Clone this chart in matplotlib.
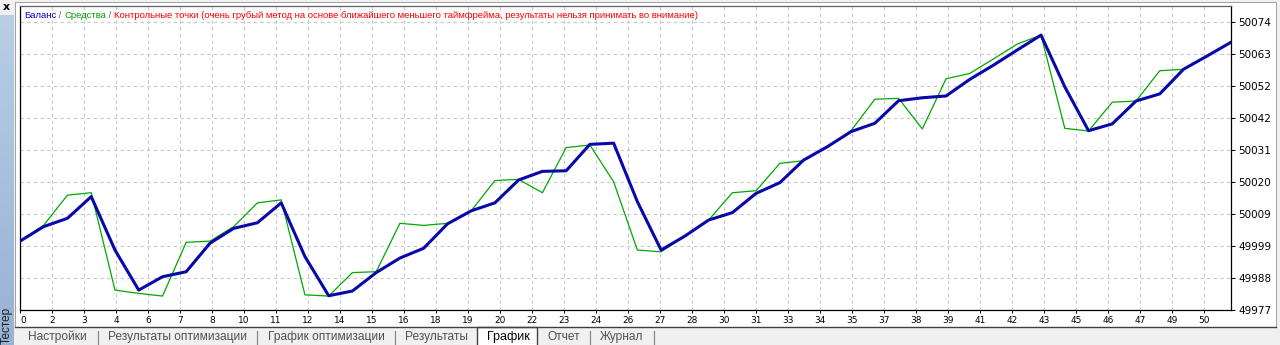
import numpy as np
import matplotlib.pyplot as plt
from matplotlib.patches import Rectangle
from matplotlib.lines import Line2D

# Data ------------------------------------------------------

trade = np.arange(52)

balance = [50000.2, 50005.1, 50007.9, 50015.2, 49997.2, 49983.7, 49988.2, 49989.9,
           49999.5, 50004.5, 50006.4, 50013.1, 49995.0, 49981.8, 49983.4, 49989.6,
           49994.5, 49997.8, 50006.0, 50010.4, 50013.1, 50020.8, 50023.7, 50023.9,
           50032.8, 50033.2, 50013.5, 49997.2, 50001.9, 50007.3, 50009.8, 50016.3,
           50019.9, 50027.5, 50032.0, 50037.1, 50039.9, 50047.5, 50048.5, 50049.1,
           50054.7, 50059.5, 50064.6, 50069.6, 50052.2, 50037.4, 50039.7, 50047.4,
           50049.8, 50058.1, 50062.6, 50067.2]

equity = [50000.2, 50005.6, 50015.7, 50016.5, 49983.7, 49982.6, 49981.7, 49999.8,
          50000.2, 50005.1, 50013.1, 50014.1, 49982.1, 49981.7, 49989.6, 49989.9,
          50006.2, 50005.5, 50006.2, 50010.4, 50020.6, 50021.0, 50016.5, 50031.7,
          50032.6, 50020.2, 49997.2, 49996.6, 50001.9, 50007.3, 50016.5, 50017.2,
          50026.4, 50027.3, 50032.0, 50037.4, 50048.0, 50048.3, 50038.0, 50054.9,
          50056.7, 50061.6, 50066.6, 50069.6, 50038.2, 50037.3, 50047.0, 50047.4,
          50057.6, 50058.1, 50062.6, 50067.2]

x_labels = ['0', '2', '3', '4', '6', '7', '8', '10', '11', '12', '14', '15', '16',
            '18', '19', '20', '22', '23', '24', '26', '27', '28', '30', '31', '33',
            '34', '35', '37', '38', '39', '41', '42', '43', '45', '46', '47', '49', '50']
y_labels = ['49977', '49988', '49999', '50009', '50020', '50031', '50042',
            '50052', '50063', '50074']

tabs = ['Настройки', 'Результаты оптимизации', 'График оптимизации', 'Результаты',
        'График', 'Отчет', 'Журнал']

# Layout helpers (pixels -> figure fraction) ---------------

W, H = 1280, 345

def fx(px):
    return px / W

def fy(py):
    return 1 - py / H

fig = plt.figure(figsize=(W / 100, H / 100), dpi=100, facecolor='#f0f0f0')

# white chart panel
fig.add_artist(Rectangle((fx(15), fy(327)), fx(1276) - fx(15), fy(2) - fy(327),
                         transform=fig.transFigure, facecolor='white',
                         edgecolor='#a0a0a0', lw=0.7, zorder=0))

# left "Тестер" strip
strip = fig.add_axes([0, 0, fx(14), fy(15)])
top_c = np.array([184, 206, 230]) / 255
bot_c = np.array([152, 178, 212]) / 255
grad = np.linspace(0, 1, 200)[:, None, None]
strip.imshow(top_c * (1 - grad) + bot_c * grad, aspect='auto')
strip.axis('off')
fig.text(fx(6), fy(7), 'x', ha='center', va='center', fontsize=8, fontweight='bold')
fig.text(fx(7), fy(344), 'Тестер', rotation=90, ha='center', va='bottom',
         fontsize=8.5, color='#202020', family='Liberation Sans')

# Main chart -----------------------------------------------

ax = fig.add_axes([fx(20), fy(310), fx(1231) - fx(20), fy(6) - fy(310)])

px_per_unit = (1231 - 20) / 51
x_step = 32 / px_per_unit
y_min, y_step = 49977.0, 10.78

ax.plot(trade, equity, color='#00a800', lw=0.9, zorder=3)
ax.plot(trade, balance, color='#0808aa', lw=2.2, zorder=4, solid_joinstyle='round')

ax.set_xlim(0, 51)
ax.set_ylim(y_min, y_min + 304 / 32 * y_step)

ax.set_xticks([k * x_step for k in range(len(x_labels))])
ax.set_xticklabels(x_labels, fontsize=6.5)
ax.xaxis.get_ticklabels()[0].set_horizontalalignment('left')
ax.set_yticks([y_min + k * y_step for k in range(len(y_labels))])
ax.set_yticklabels(y_labels, fontsize=7.5)
ax.yaxis.tick_right()
ax.tick_params(axis='x', length=2, pad=2, width=0.7)
ax.tick_params(axis='y', length=3, pad=2, width=0.7)

ax.grid(True, color='#c8c8c8', linestyle=(0, (3, 3)), lw=0.8)
for s in ax.spines.values():
    s.set_color('black')
    s.set_linewidth(0.9)
ax.spines['top'].set_color('#606060')

# header text, coloured parts chained one after another
hdr_font = 'Liberation Sans'
parts = [('Баланс', '#0000c8'), (' / ', '#606060'), ('Средства', '#00a000'),
         (' / ', '#606060'),
         ('Контрольные точки (очень грубый метод на основе ближайшего меньшего '
          'таймфрейма, результаты нельзя принимать во внимание)', '#ff0000')]
prev = fig.text(fx(24), fy(15), parts[0][0], color=parts[0][1], va='center',
                fontsize=6.8, family=hdr_font)
for txt, col in parts[1:]:
    prev = ax.annotate(txt, xy=(1, 0.5), xycoords=prev, va='center', color=col,
                       fontsize=6.8, family=hdr_font, annotation_clip=False)

# Tab bar --------------------------------------------------

fig.add_artist(Line2D([fx(15), fx(1276)], [fy(327), fy(327)], color='#404040',
                      lw=1, transform=fig.transFigure))
fig.add_artist(Rectangle((fx(477), fy(346)), fx(537) - fx(477), fy(327) - fy(346),
                         transform=fig.transFigure, facecolor='white',
                         edgecolor='#404040', lw=1))
tab_x = [28, 108, 268, 405, 487, 548, 600]
for t, x in zip(tabs, tab_x):
    sel = t == 'График'
    fig.text(fx(x), fy(337), t, va='center', ha='left', family='Liberation Sans',
             fontsize=9 if sel else 8.6, color='black' if sel else '#505050')
for x in [98, 257, 395, 590, 654]:
    fig.add_artist(Line2D([fx(x), fx(x)], [fy(331), fy(344)], color='#808080',
                          lw=0.8, transform=fig.transFigure))

fig.savefig('out.png', dpi=100, facecolor=fig.get_facecolor())
